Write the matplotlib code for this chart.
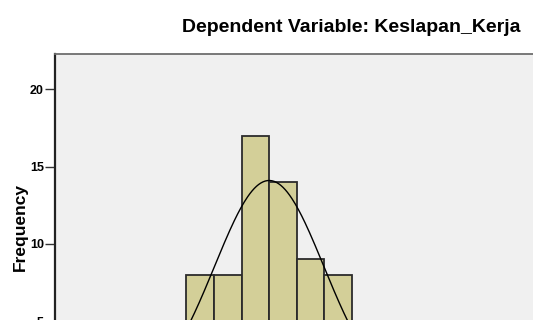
import numpy as np
import matplotlib
matplotlib.use("Agg")
import matplotlib.pyplot as plt

# Data (visible part of the SPSS histogram of standardized residuals)
bin_edges = [-1.5, -1.0, -0.5, 0.0, 0.5, 1.0, 1.5]
counts = [8, 8, 17, 14, 9, 8]
ytick_values = [5, 10, 15, 20]
ytick_labels = ["5", "10", "15", "20"]
title_text = "Dependent Variable: Keslapan_Kerja"
ylabel_text = "Frequency"
curve_mean = 0.0
curve_sd = 0.99
curve_n = 70

W, H = 533, 320
fig = plt.figure(figsize=(W / 100, H / 100), dpi=100)
fig.patch.set_facecolor("white")

# axes extends past the bottom/right of the canvas (the reference is a crop)
left_px, top_px = 55, 54
ymax = 22.28
px_per_unit_y = 15.47
bottom_px = top_px + ymax * px_per_unit_y
xmin, xmax = -3.88, 5.0
px_per_unit_x = 55.2
width_px = (xmax - xmin) * px_per_unit_x
ax = fig.add_axes([left_px / W, 1 - bottom_px / H, width_px / W, (bottom_px - top_px) / H])
ax.set_facecolor("#F0F0F0")
ax.set_xlim(xmin, xmax)
ax.set_ylim(0, ymax)

widths = np.diff(bin_edges)
ax.bar(bin_edges[:-1], counts, width=widths, align="edge",
       color="#D3CF98", edgecolor="#2b2b2b", linewidth=1.3, zorder=2)

bw = widths[0]
xs = np.linspace(-4, 4, 400)
ys = curve_n * bw / (curve_sd * np.sqrt(2 * np.pi)) * np.exp(-0.5 * ((xs - curve_mean) / curve_sd) ** 2)
ax.plot(xs, ys, color="black", linewidth=1.0, zorder=3)

ax.set_yticks(ytick_values)
ax.set_yticklabels(ytick_labels, fontsize=9, fontweight="bold", family="Liberation Sans")
ax.set_xticks([])
ax.tick_params(axis="y", direction="out", length=7, width=1, color="#333333", pad=1)

ax.spines["top"].set_color("#6e6e6e")
ax.spines["top"].set_linewidth(1.3)
ax.spines["left"].set_color("#222222")
ax.spines["left"].set_linewidth(1.6)

ax.set_ylabel(ylabel_text, fontsize=12.5, fontweight="bold", family="Liberation Sans")
ax.yaxis.set_label_coords(-27 / width_px, (bottom_px - 227) / (bottom_px - top_px))

fig.text(351 / W, 1 - 28 / H, title_text, ha="center", va="center",
         fontsize=14, fontweight="bold", family="Liberation Sans")

fig.savefig("out.png", dpi=100)
